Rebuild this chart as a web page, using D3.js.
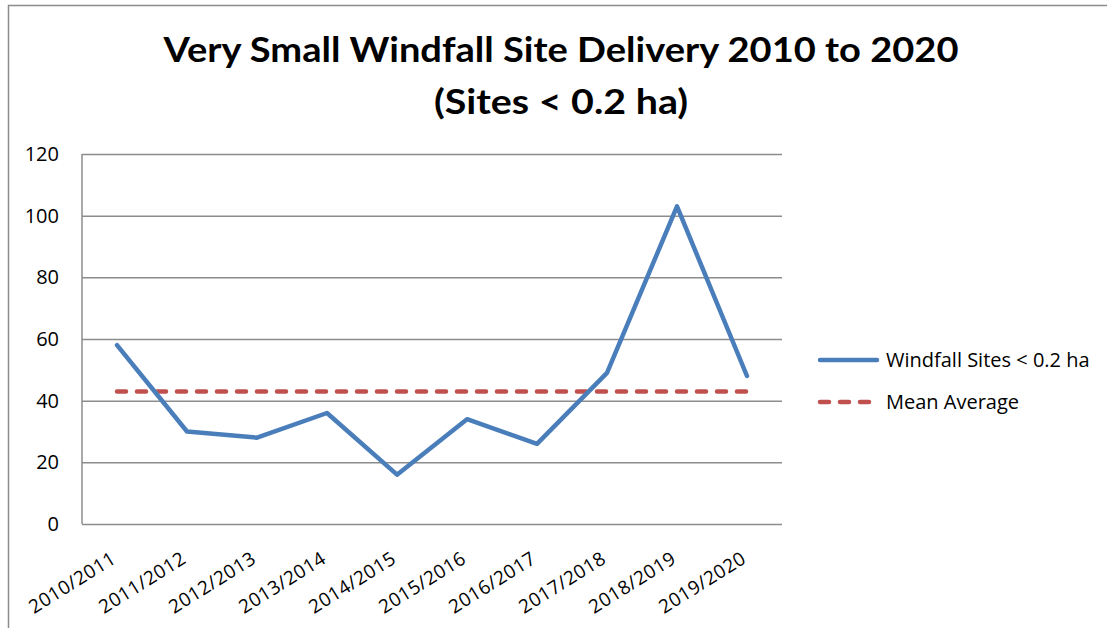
<!DOCTYPE html>
<html>
<head>
<meta charset="utf-8">
<script src="https://cdn.jsdelivr.net/npm/d3@7"></script>
<style>
  body { margin: 0; background: #fff; }
  svg { display: block; font-family: "Open Sans", "Lato", sans-serif; }
</style>
</head>
<body>
<div id="chart"></div>
<script>
"use strict";

// data
var years = ["2010/2011", "2011/2012", "2012/2013", "2013/2014", "2014/2015",
             "2015/2016", "2016/2017", "2017/2018", "2018/2019", "2019/2020"];
var windfall = [58, 30, 28, 36, 16, 34, 26, 49, 103, 48];
var meanAverage = [43, 43, 43, 43, 43, 43, 43, 43, 43, 43];
var yTicks = [0, 20, 40, 60, 80, 100, 120];
var seriesNames = ["Windfall Sites < 0.2 ha", "Mean Average"];
var titleLines = ["Very Small Windfall Site Delivery 2010 to 2020", "(Sites < 0.2 ha)"];

var W = 1107, H = 628;
var margin = {top: 154, right: 325, bottom: 104, left: 82};
var width = W - margin.left - margin.right;
var height = H - margin.top - margin.bottom;
var labelFont = "'Open Sans', Lato, sans-serif";

var svg = d3.select("#chart").append("svg")
    .attr("width", W)
    .attr("height", H);

// chart frame (runs off the right and bottom edges)
svg.append("rect")
    .attr("x", 8.5).attr("y", 5.5)
    .attr("width", W + 20).attr("height", H + 20)
    .attr("fill", "#fff")
    .attr("stroke", "#8c8c8c")
    .attr("stroke-width", 1.5);

// title
svg.selectAll("text.title")
    .data(titleLines)
  .enter().append("text")
    .attr("class", "title")
    .attr("x", 561)
    .attr("y", function(d, i) { return 62 + i * 52; })
    .attr("text-anchor", "middle")
    .attr("font-family", "Lato, 'Open Sans', sans-serif")
    .attr("font-size", 35)
    .attr("font-weight", "bold")
    .attr("textLength", function(d, i) { return i === 0 ? 795 : 254; })
    .attr("lengthAdjust", "spacingAndGlyphs")
    .text(function(d) { return d; });

var g = svg.append("g")
    .attr("transform", "translate(" + margin.left + "," + margin.top + ")");

var x = d3.scalePoint()
    .domain(years)
    .range([0, width])
    .padding(0.5);

var y = d3.scaleLinear()
    .domain([0, 120])
    .range([height, 0]);

// gridlines + y labels
var yAxis = g.append("g")
    .call(d3.axisLeft(y).tickValues(yTicks).tickSize(-width).tickPadding(23));
yAxis.select(".domain").remove();
yAxis.selectAll(".tick line")
    .attr("stroke", "#8c8c8c")
    .attr("stroke-width", 1.5);
yAxis.selectAll(".tick text")
    .attr("font-size", 20)
    .attr("fill", "#000")
    .attr("font-family", labelFont);

// plot area left border
g.append("line")
    .attr("x1", 0).attr("x2", 0)
    .attr("y1", 0).attr("y2", height)
    .attr("stroke", "#8c8c8c")
    .attr("stroke-width", 1.5);

// x labels
var xAxis = g.append("g")
    .attr("transform", "translate(0," + height + ")")
    .call(d3.axisBottom(x).tickSize(0).tickPadding(0));
xAxis.select(".domain").remove();
xAxis.selectAll(".tick text")
    .attr("font-size", 19)
    .attr("fill", "#000")
    .attr("font-family", labelFont)
    .attr("letter-spacing", 0.5)
    .attr("text-anchor", "end")
    .attr("dy", null)
    .attr("y", 0)
    .attr("transform", "translate(0,38) rotate(-32)");

// series
var line = d3.line()
    .x(function(d, i) { return x(years[i]); })
    .y(function(d) { return y(d); });

g.append("path")
    .datum(meanAverage)
    .attr("fill", "none")
    .attr("stroke", "#c0504d")
    .attr("stroke-width", 4.5)
    .attr("stroke-linecap", "round")
    .attr("stroke-dasharray", "9,11")
    .attr("d", line);

g.append("path")
    .datum(windfall)
    .attr("fill", "none")
    .attr("stroke", "#4a7ebb")
    .attr("stroke-width", 4.5)
    .attr("stroke-linejoin", "round")
    .attr("stroke-linecap", "round")
    .attr("d", line);

// legend
var legend = svg.append("g")
    .attr("transform", "translate(818,360)");

var items = legend.selectAll("g")
    .data(seriesNames)
  .enter().append("g")
    .attr("transform", function(d, i) { return "translate(0," + i * 42 + ")"; });

items.append("line")
    .attr("x1", 2).attr("x2", 59)
    .attr("y1", 0).attr("y2", 0)
    .attr("stroke", function(d, i) { return i === 0 ? "#4a7ebb" : "#c0504d"; })
    .attr("stroke-width", 4.5)
    .attr("stroke-linecap", "round")
    .attr("stroke-dasharray", function(d, i) { return i === 0 ? null : "9,11"; });

items.append("text")
    .attr("x", 68)
    .attr("y", 7)
    .attr("font-size", 20)
    .attr("font-family", labelFont)
    .text(function(d) { return d; });
</script>
</body>
</html>
